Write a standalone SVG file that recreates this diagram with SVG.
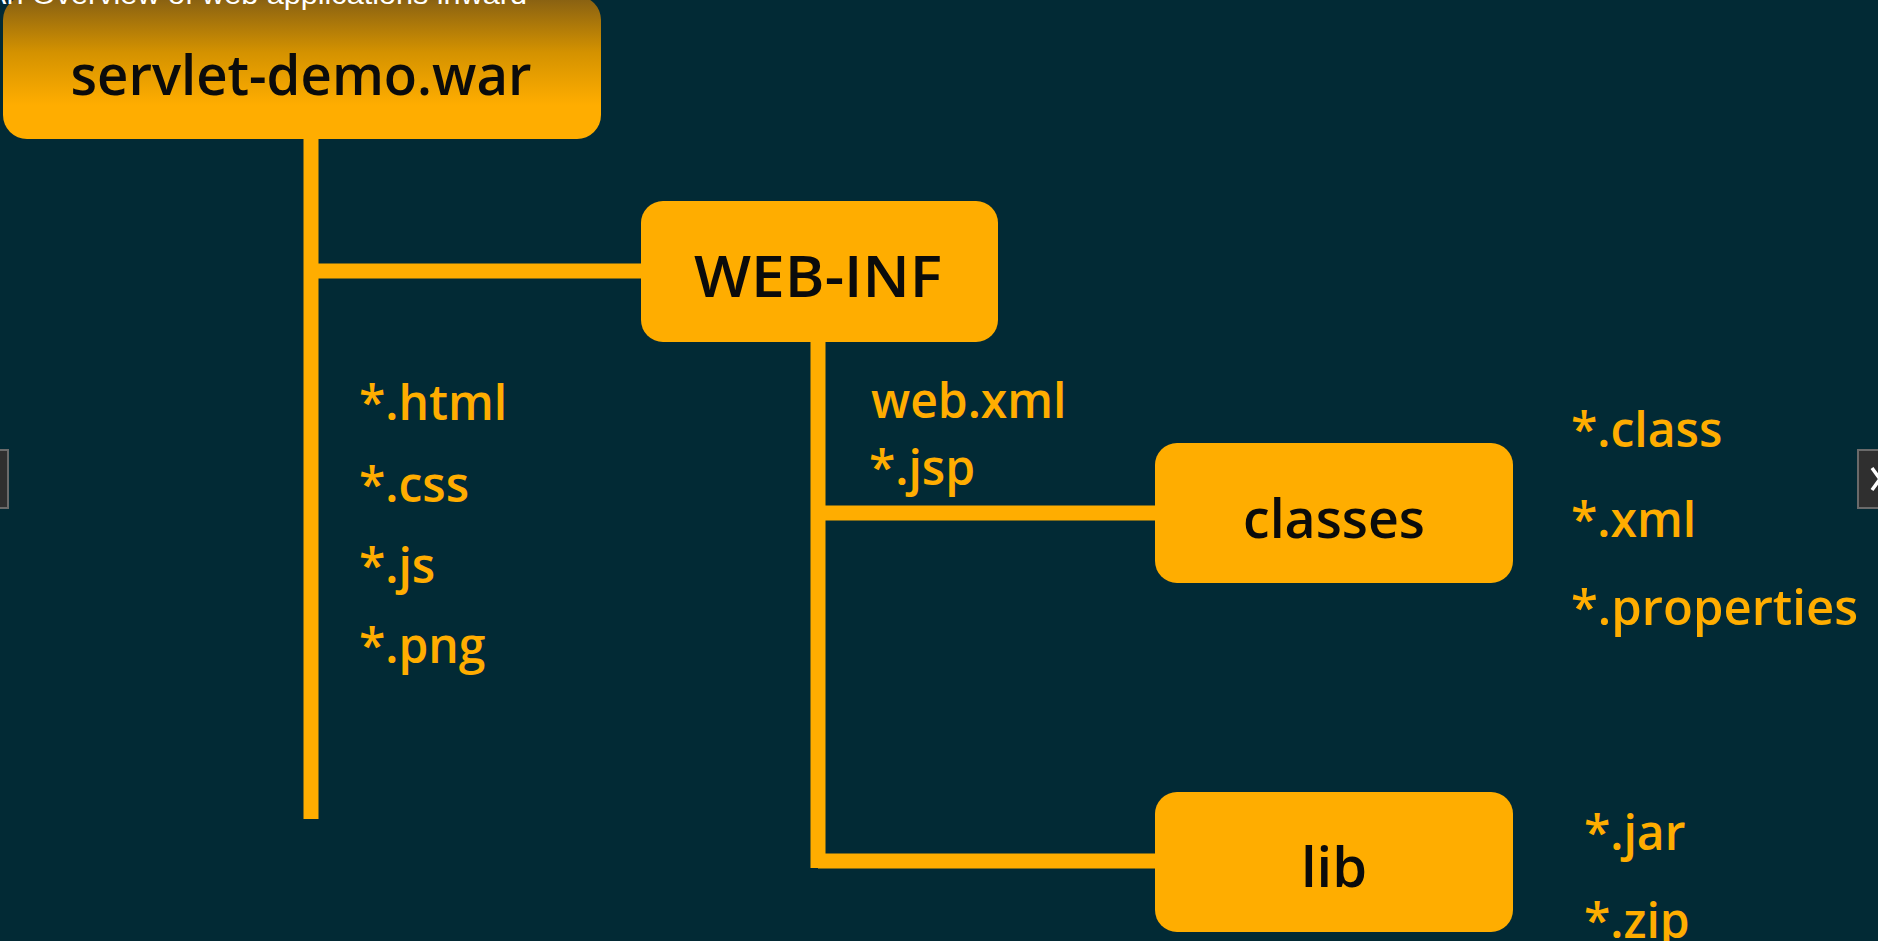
<svg xmlns="http://www.w3.org/2000/svg" width="1878" height="941" viewBox="0 0 1878 941">
<style>
.box{fill:#ffad00}
.title{font-family:"Open Sans","Noto Sans","DejaVu Sans",sans-serif;font-weight:600;fill:#0b0b0b;text-anchor:middle}
.lbl{font-family:"Open Sans","Noto Sans","DejaVu Sans",sans-serif;font-weight:600;fill:#ffad00;font-size:48px}
.conn{stroke:#ffad00;stroke-width:15;fill:none;stroke-linecap:butt}
.side{fill:#2f2f2f;stroke:#6a6a6a;stroke-width:2}
</style>
<defs>
<linearGradient id="topgrad" gradientUnits="userSpaceOnUse" x1="0" y1="0" x2="0" y2="105">
<stop offset="0" stop-color="#8a6212"/>
<stop offset="0.5" stop-color="#d49200"/>
<stop offset="1" stop-color="#ffad00"/>
</linearGradient>
</defs>
<rect x="0" y="0" width="1878" height="941" fill="#022a35"/>

<g id="connectors">
<line class="conn" x1="311" y1="130" x2="311" y2="819"/>
<line class="conn" x1="311" y1="271" x2="650" y2="271"/>
<line class="conn" x1="818" y1="330" x2="818" y2="868"/>
<line class="conn" x1="818" y1="513" x2="1165" y2="513"/>
<line class="conn" x1="818" y1="861" x2="1165" y2="861"/>
</g>

<g id="servlet-demo-war">
<rect x="3" y="-4" width="598" height="143" rx="24" fill="url(#topgrad)"/>
<text class="title" x="301" y="95" font-size="56" textLength="461" lengthAdjust="spacingAndGlyphs">servlet-demo.war</text>
</g>

<text x="-14" y="4" font-family="'Liberation Sans',sans-serif" font-size="28" fill="#ffffff" textLength="541" lengthAdjust="spacingAndGlyphs">An Overview of web applications inward</text>

<g id="web-inf">
<rect class="box" x="641" y="201" width="357" height="141" rx="22"/>
<text class="title" x="818" y="297" font-size="58" textLength="248" lengthAdjust="spacingAndGlyphs">WEB-INF</text>
</g>

<g id="classes">
<rect class="box" x="1155" y="443" width="358" height="140" rx="22"/>
<text class="title" x="1334" y="538" font-size="55" textLength="182" lengthAdjust="spacingAndGlyphs">classes</text>
</g>

<g id="lib">
<rect class="box" x="1155" y="792" width="358" height="140" rx="22"/>
<text class="title" x="1334" y="887" font-size="56">lib</text>
</g>

<g id="root-files">
<text class="lbl" x="359" y="420">*.html</text>
<text class="lbl" x="359" y="502">*.css</text>
<text class="lbl" x="359" y="583">*.js</text>
<text class="lbl" x="359" y="663">*.png</text>
</g>

<g id="webinf-files">
<text class="lbl" x="871" y="418">web.xml</text>
<text class="lbl" x="869" y="485">*.jsp</text>
</g>

<g id="classes-files">
<text class="lbl" x="1571" y="447">*.class</text>
<text class="lbl" x="1571" y="537">*.xml</text>
<text class="lbl" x="1571" y="625" textLength="287" lengthAdjust="spacingAndGlyphs">*.properties</text>
</g>

<g id="lib-files">
<text class="lbl" x="1584" y="850">*.jar</text>
<text class="lbl" x="1584" y="938">*.zip</text>
</g>

<g id="side-buttons">
<rect class="side" x="-40" y="450" width="48" height="58"/>
<rect class="side" x="1858" y="450" width="60" height="58"/>
<polyline points="1872,468 1880,479 1872,490" fill="none" stroke="#ffffff" stroke-width="3.5"/>
</g>
</svg>
